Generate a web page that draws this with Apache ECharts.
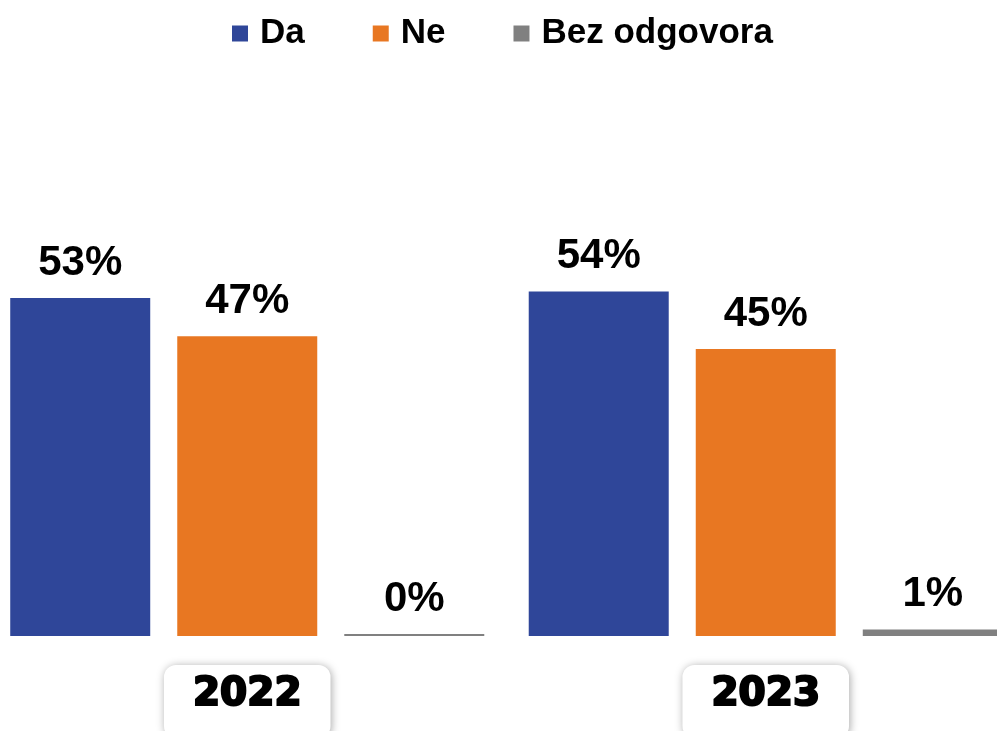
<!DOCTYPE html>
<html>
<head>
<meta charset="utf-8">
<script src="https://cdn.jsdelivr.net/npm/echarts@6/dist/echarts.min.js"></script>
<style>
  html, body { margin: 0; padding: 0; background: #fff; }
  #chart { width: 997px; height: 731px; }
</style>
</head>
<body>
<div id="chart"></div>
<script>
const years = ['2022', '2023']
const seriesNames = ['Da', 'Ne', 'Bez odgovora']
const da = [53, 54]
const ne = [47, 45]
const bezOdgovora = [0, 1]
const colors = ['#2F4699', '#E87722', '#808080']

const barLabel = {
    show: true,
    position: 'top',
    distance: 14,
    formatter: '{c}%',
    color: '#000',
    fontFamily: 'Liberation Sans, Arial',
    fontWeight: 'bold',
    fontSize: 42
}

const chart = echarts.init(document.getElementById('chart'))

chart.setOption({
    animation: false,
    color: colors,
    legend: {
        left: 227,
        top: 11,
        itemWidth: 16,
        itemHeight: 16,
        itemGap: 68,
        icon: 'rect',
        textStyle: {
            fontFamily: 'Liberation Sans, Arial',
            fontWeight: 'bold',
            fontSize: 35,
            color: '#000',
            padding: [0, 0, 0, 7]
        },
        data: seriesNames
    },
    grid: {
        left: -12,
        right: -28,
        top: 62,
        bottom: 95,
        outerBoundsMode: 'none'
    },
    xAxis: {
        type: 'category',
        data: years,
        axisLine: { show: false },
        axisTick: { show: false },
        axisLabel: {
            margin: 29,
            fontFamily: 'DejaVu Sans',
            fontWeight: 'bold',
            fontSize: 39,
            color: '#000',
            textBorderColor: '#000',
            textBorderWidth: 2.2,
            backgroundColor: '#fff',
            borderRadius: 12,
            padding: [10, 29, 24, 29],
            shadowColor: 'rgba(0,0,0,0.35)',
            shadowBlur: 9,
            shadowOffsetX: 1,
            shadowOffsetY: 1
        }
    },
    yAxis: {
        type: 'value',
        min: 0,
        max: 90,
        show: false,
        splitLine: { show: false }
    },
    series: [
        {
            name: seriesNames[0],
            type: 'bar',
            data: da,
            barWidth: 140,
            barGap: '19.3%',
            label: barLabel
        },
        {
            name: seriesNames[1],
            type: 'bar',
            data: ne,
            barWidth: 140,
            barGap: '19.3%',
            label: barLabel
        },
        {
            name: seriesNames[2],
            type: 'bar',
            data: bezOdgovora,
            barWidth: 140,
            barGap: '19.3%',
            barMinHeight: 2,
            label: barLabel
        }
    ]
})
</script>
</body>
</html>
